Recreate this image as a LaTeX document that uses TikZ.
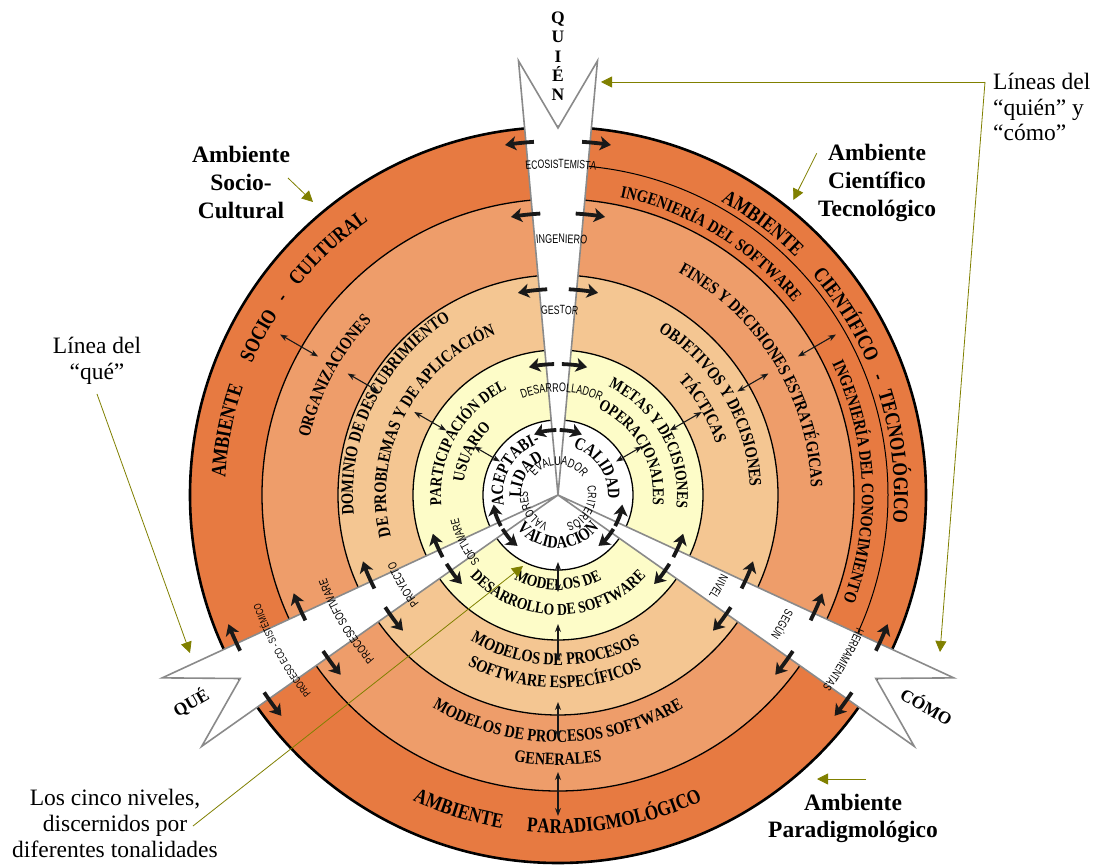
\documentclass[tikz,border=0pt]{standalone}
\usepackage{fontspec}
\setmainfont{Liberation Serif}
\newfontfamily\condserif[FakeStretch=0.82]{Liberation Serif}
\newfontfamily\condsans[FakeStretch=0.72]{Liberation Sans}
\usetikzlibrary{decorations.text,arrows.meta}

\definecolor{ringA}{RGB}{231,122,65}
\definecolor{ringB}{RGB}{238,157,106}
\definecolor{ringC}{RGB}{244,198,146}
\definecolor{ringD}{RGB}{253,252,200}
\definecolor{edgegray}{RGB}{138,138,138}
\definecolor{noteolive}{RGB}{128,128,0}
\definecolor{inkdark}{RGB}{25,25,25}

% type faces for the labels
\newcommand\fOuter{\condserif\bfseries\fontsize{21}{21}\selectfont}
\newcommand\fMid{\condserif\bfseries\fontsize{17.5}{17.5}\selectfont}
\newcommand\fInner{\condserif\bfseries\fontsize{16.5}{16.5}\selectfont}
\newcommand\fCore{\condserif\bfseries\fontsize{17.5}{17.5}\selectfont}
\newcommand\fTag{\condsans\fontsize{12}{12}\selectfont}
\newcommand\fTagL{\condsans\fontsize{12.5}{12.5}\selectfont}
\newcommand\fTagS{\condsans\fontsize{10.5}{10.5}\selectfont}

% text on a circle around the origin: font, baseline radius, centre angle, text
% clockwise: letters point outwards
\newcommand\cwarc[4]{\path[decorate,decoration={text along path,text={|#1|#4},text align=center}]
  ({#3+90}:#2) arc[start angle={#3+90},end angle={#3-90},radius=#2];}
% counter-clockwise: letters point towards the centre
\newcommand\ccwarc[4]{\path[decorate,decoration={text along path,text={|#1|#4},text align=center}]
  ({#3-90}:#2) arc[start angle={#3-90},end angle={#3+90},radius=#2];}

\begin{document}
\begin{tikzpicture}[x=1pt,y=1pt,
  swing/.style={line width=3.8pt,draw=inkdark,-{Stealth[length=11pt,width=14pt,inset=3pt]}},
  thinarrow/.style={line width=1.1pt,draw=inkdark,{Stealth[length=8pt,width=6pt]}-{Stealth[length=8pt,width=6pt]}},
  wedgebox/.style={fill=white,draw=edgegray,line width=1.6pt,line join=miter},
  ringline/.style={draw=black,line width=1.3pt},
  note/.style={font=\fontsize{23.5}{26}\selectfont,align=center,inner sep=0pt},
  notebold/.style={font=\bfseries\fontsize{23.5}{28}\selectfont,align=center,inner sep=0pt},
  pointer/.style={draw=noteolive,line width=0.8pt,-{Triangle[length=11pt,width=11pt]}},
  wedgename/.style={font=\bfseries\fontsize{17.5}{19.3}\selectfont,inner sep=0pt,align=center}
]
\useasboundingbox (-558,-369) rectangle (541,495);
\fill[white] (-558,-369) rectangle (541,495);

% the five levels
\fill[ringA] (0,0) circle[radius=368];
\fill[ringB] (0,0) circle[radius=296];
\fill[ringC] (0,0) circle[radius=220];
\fill[ringD] (0,0) circle[radius=145];
\fill[white] (0,0) circle[radius=75];
\draw[ringline] (0,0) circle[radius=296];
\draw[ringline] (0,0) circle[radius=220];
\draw[ringline] (0,0) circle[radius=145];
\draw[ringline] (0,0) circle[radius=75];
\draw[black,line width=2.6pt] (0,0) circle[radius=368];
\draw[black,line width=1pt] (90:330) arc[start angle=90,end angle=-30,radius=330];

% outer environment
\cwarc{\fOuter}{333}{169}{AMBIENTE}
\cwarc{\fOuter}{333}{152}{SOCIO}
\cwarc{\fOuter}{333}{144.5}{-}
\cwarc{\fOuter}{333}{133}{CULTURAL}
\cwarc{\fOuter}{336}{53}{AMBIENTE}
\cwarc{\fOuter}{336}{32}{CIENTÍFICO}
\cwarc{\fOuter}{336}{20.2}{-}
\cwarc{\fOuter}{336}{6.5}{TECNOLÓGICO}
\ccwarc{\fOuter}{338}{252.5}{AMBIENTE}
\ccwarc{\fOuter}{338}{280}{PARADIGMOLÓGICO}
\cwarc{\fMid}{304}{58.7}{INGENIERÍA DEL SOFTWARE}
\cwarc{\fMid}{304}{2.7}{INGENIERÍA DEL CONOCIMIENTO}

% second level
\cwarc{\fMid}{255}{152}{ORGANIZACIONES}
\cwarc{\fMid}{253}{31.7}{FINES Y DECISIONES ESTRATÉGICAS}
\ccwarc{\fMid}{247}{270}{MODELOS DE PROCESOS SOFTWARE}
\ccwarc{\fMid}{270}{270}{GENERALES}

% third level
\cwarc{\fMid}{205}{153.5}{DOMINIO DE DESCUBRIMIENTO}
\cwarc{\fMid}{172}{152.5}{DE PROBLEMAS Y DE APLICACIÓN}
\cwarc{\fMid}{192}{30.5}{OBJETIVOS Y DECISIONES}
\cwarc{\fMid}{166}{30.7}{TÁCTICAS}
\ccwarc{\fMid}{170}{269}{MODELOS DE PROCESOS}
\ccwarc{\fMid}{193}{269}{SOFTWARE ESPECÍFICOS}

% fourth level
\cwarc{\fInner}{117}{150.4}{PARTICIPACIÓN DEL}
\cwarc{\fInner}{95}{153.5}{USUARIO}
\cwarc{\fInner}{119}{29.4}{METAS Y DECISIONES}
\cwarc{\fInner}{95}{29.6}{OPERACIONALES}
\ccwarc{\fInner}{95}{270}{MODELOS DE}
\ccwarc{\fInner}{120}{270}{DESARROLLO DE SOFTWARE}

% core
\cwarc{\fCore}{55}{150}{ACEPTABI-}
\cwarc{\fCore}{37}{148.5}{LIDAD}
\cwarc{\fCore}{50}{34}{CALIDAD}
\ccwarc{\fCore}{53}{270}{VALIDACIÓN}

% the three lines: quién, qué, cómo
\foreach \wa in {90,210,330}{
  \draw[wedgebox] (0,0) -- ({\wa+5.2}:436) -- (\wa:367) -- ({\wa-5.2}:436) -- cycle;
}

% labels inside the lines
\cwarc{\fTag}{327}{89.5}{ECOSISTEMISTA}
\cwarc{\fTagL}{252}{89.2}{INGENIERO}
\cwarc{\fTag}{181}{89.5}{GESTOR}
\cwarc{\fTagL}{103}{88}{DESARROLLADOR}
\cwarc{\fTagL}{30}{88}{EVALUADOR}
\cwarc{\fTagS}{317}{209.4}{PROCESO ECO - SISTÉMICO}
\cwarc{\fTag}{246}{210.8}{PROCESO SOFTWARE}
\cwarc{\fTag}{176}{210}{PROYECTO}
\cwarc{\fTag}{102}{206.6}{SOFTWARE}
\cwarc{\fTag}{30}{212}{VALORES}
\cwarc{\fTag}{327}{330}{HERRAMIENTAS}
\cwarc{\fTag}{255}{330}{SEGÚN}
\cwarc{\fTag}{181}{330.3}{NIVEL}
\cwarc{\fTag}{30}{331}{CRITERIOS}

% curved arrows leaving each line at every level
\foreach \wa in {90,210,330}{
  \foreach \wr/\ws/\we in {354/3.9/8.6, 282/3.6/9.6, 206/3.0/11.2, 131/1.7/12.8, 65/1.5/21.5}{
    \draw[swing] ({\wa+\ws}:\wr) arc[start angle={\wa+\ws},end angle={\wa+\we},radius=\wr];
    \draw[swing] ({\wa-\ws}:\wr) arc[start angle={\wa-\ws},end angle={\wa-\we},radius=\wr];
  }
}

% links between neighbouring levels
\foreach \wa in {150,30,270}{
  \foreach \ri/\ro in {67/97, 129/166, 207/243, 277/321}{
    \draw[thinarrow] (\wa:\ri) -- (\wa:\ro);
  }
}

% names of the lines
\node[wedgename] (quien) at (0,438.5) {Q\\U\\I\\É\\N};
\node[wedgename,rotate=30] (que) at (-367,-208) {QUÉ};
\node[wedgename,rotate=-30] (como) at (369,-211) {CÓMO};

% notes
\node[notebold] (socio) at (-317,313) {Ambiente\\Socio-\\Cultural};
\node[notebold] (cienti) at (319,312) {Ambiente\\Científico\\Tecnológico};
\node[notebold,font=\bfseries\fontsize{23.5}{27}\selectfont] (paradig) at (295,-323) {Ambiente\\Paradigmológico};
\node[note,align=left,anchor=west,font=\fontsize{23.5}{25.5}\selectfont] (lineas) at (435,388) {Líneas del\\“quién” y\\“cómo”};
\node[note] (linea) at (-461,134) {Línea del\\“qué”};
\node[note] (cinco) at (-443,-328) {Los cinco niveles,\\discernidos por\\diferentes tonalidades};

\coordinate (socioA) at (-270,317);   \coordinate (socioB) at (-245,293);
\coordinate (cientiA) at (258.7,341.7); \coordinate (cientiB) at (235.3,295);
\coordinate (paradigA) at (308,-284); \coordinate (paradigB) at (259,-284);
\coordinate (lineasK) at (427,413);
\coordinate (lineasB) at (43,413);    \coordinate (lineasC) at (382,-157);
\coordinate (lineaA) at (-461,101);   \coordinate (lineaB) at (-368,-158);
\coordinate (cincoA) at (-365,-331);  \coordinate (cincoB) at (-35,-71);

\draw[pointer] (socioA) -- (socioB);
\draw[pointer] (cientiA) -- (cientiB);
\draw[pointer] (paradigA) -- (paradigB);
\draw[pointer] (lineasK) -- (lineasB);
\draw[pointer] (lineasK) -- (lineasC);
\draw[pointer] (lineaA) -- (lineaB);
\draw[pointer] (cincoA) -- (cincoB);
\end{tikzpicture}
\end{document}
